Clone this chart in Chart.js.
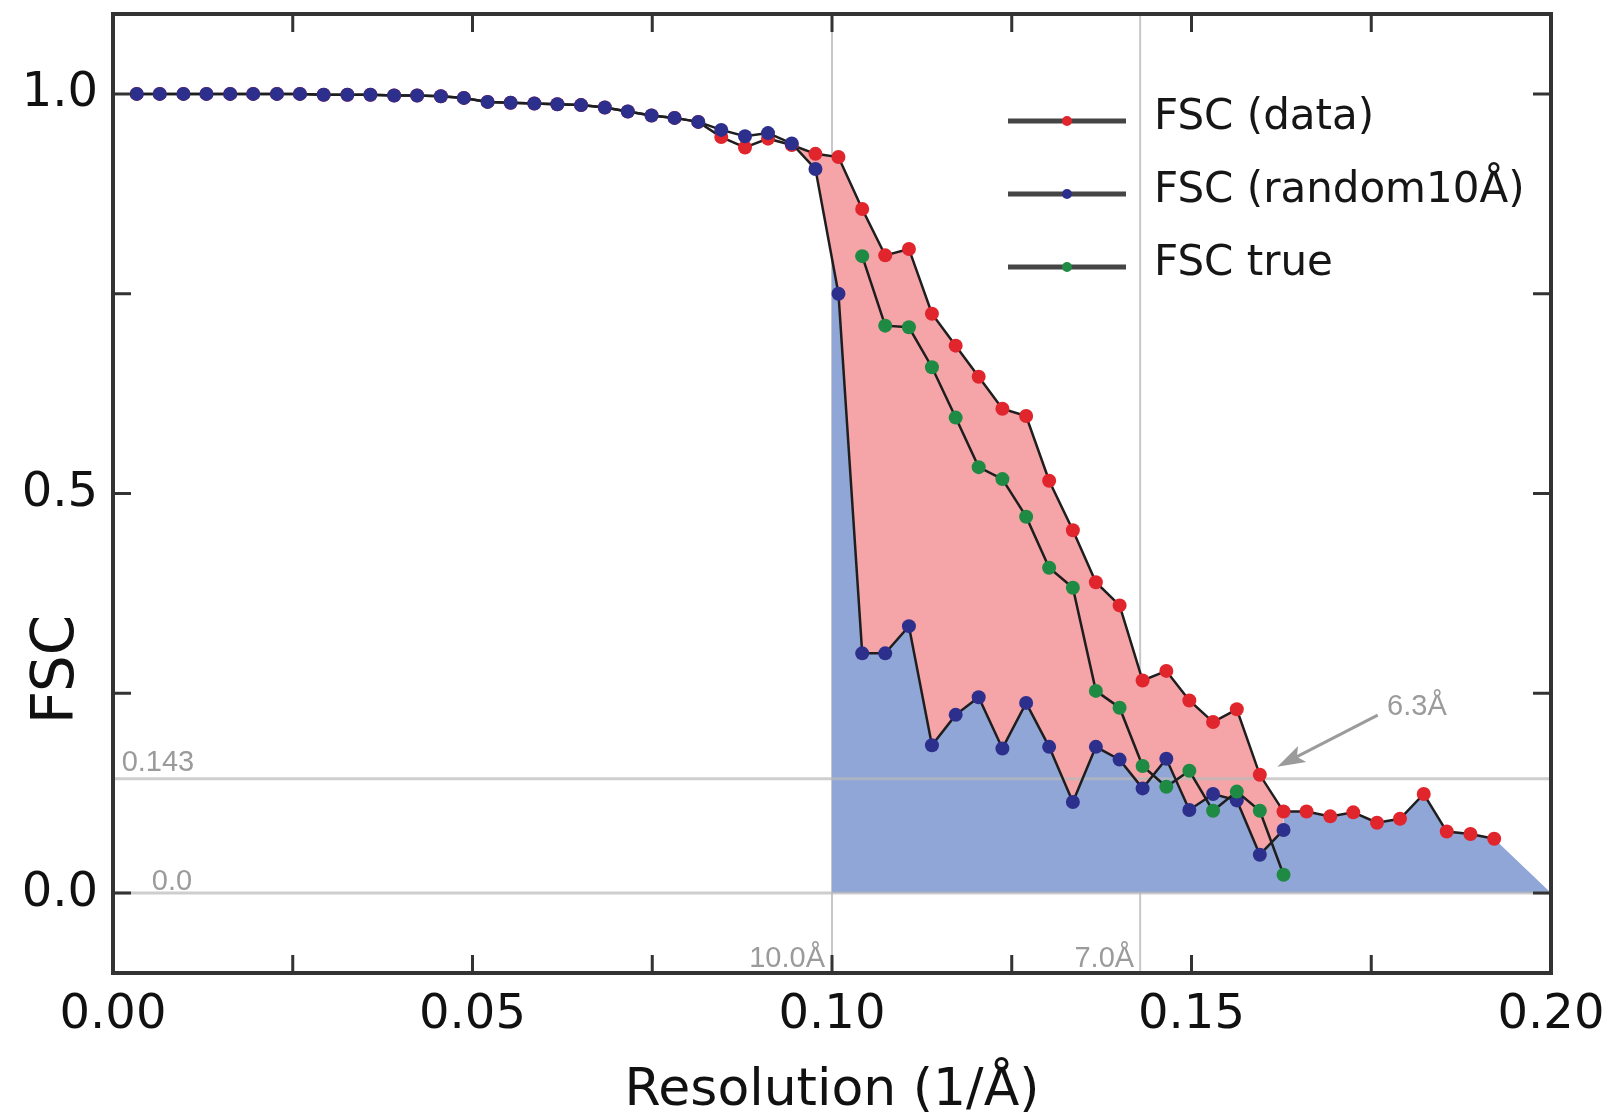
<!DOCTYPE html>
<html>
<head>
<meta charset="utf-8">
<title>FSC</title>
<script src="https://cdn.jsdelivr.net/npm/chart.js@4.4.1/dist/chart.umd.min.js"></script>
<style>
  html, body { margin: 0; padding: 0; background: #fff; }
  #wrap { width: 1613px; height: 1119px; position: relative; }
</style>
</head>
<body>
<div id="wrap"><canvas id="fscChart"></canvas></div>
<script>
// Shell frequencies (1/Å)
const resolution = [
  0.0033, 0.0065, 0.0098, 0.0130, 0.0163, 0.0195, 0.0228, 0.0260, 0.0293, 0.0326,
  0.0358, 0.0391, 0.0423, 0.0456, 0.0488, 0.0521, 0.0553, 0.0586, 0.0618, 0.0651,
  0.0684, 0.0716, 0.0749, 0.0781, 0.0814, 0.0846, 0.0879, 0.0911, 0.0944, 0.0977,
  0.1009, 0.1042, 0.1074, 0.1107, 0.1139, 0.1172, 0.1204, 0.1237, 0.1270, 0.1302,
  0.1335, 0.1367, 0.1400, 0.1432, 0.1465, 0.1497, 0.1530, 0.1563, 0.1595, 0.1628,
  0.1660, 0.1693, 0.1725, 0.1758, 0.1790, 0.1823, 0.1855, 0.1888, 0.1921
];

const fscData = [
  1.000, 1.000, 1.000, 1.000, 1.000, 1.000, 1.000, 1.000, 0.999, 0.999,
  0.999, 0.998, 0.998, 0.997, 0.995, 0.990, 0.989, 0.988, 0.987, 0.986,
  0.983, 0.978, 0.973, 0.970, 0.965, 0.946, 0.933, 0.944, 0.936, 0.925,
  0.921, 0.856, 0.798, 0.806, 0.725, 0.685, 0.646, 0.606, 0.597, 0.516,
  0.454, 0.389, 0.360, 0.266, 0.278, 0.241, 0.214, 0.230, 0.148, 0.102,
  0.102, 0.096, 0.101, 0.088, 0.093, 0.124, 0.077, 0.074, 0.068
];

const fscRandom = [
  1.000, 1.000, 1.000, 1.000, 1.000, 1.000, 1.000, 1.000, 0.999, 0.999,
  0.999, 0.998, 0.998, 0.997, 0.995, 0.990, 0.989, 0.988, 0.987, 0.986,
  0.983, 0.978, 0.973, 0.970, 0.965, 0.955, 0.947, 0.951, 0.938, 0.906,
  0.750, 0.300, 0.300, 0.334, 0.185, 0.223, 0.245, 0.181, 0.238, 0.183,
  0.114, 0.183, 0.167, 0.131, 0.168, 0.104, 0.124, 0.116, 0.048, 0.079
];

// FSC true starts at the 32nd shell
const trueStart = 31;
const fscTrue = [
  0.797, 0.710, 0.708, 0.658, 0.595, 0.533, 0.518, 0.471, 0.407, 0.382,
  0.253, 0.232, 0.159, 0.133, 0.153, 0.103, 0.127, 0.103, 0.023
];

const xTicks = [0, 0.05, 0.10, 0.15, 0.20];
const yTicks = [0.0, 0.5, 1.0];
const seriesLabels = ["FSC (data)", "FSC (random10Å)", "FSC true"];
const cutoff = 0.10;       // 10 Å, phase randomisation starts
const sevenA = 1 / 7.0;    // 7 Å
const threshold = 0.143;
const resLabel = { x: 1 / 6.3, text: "6.3Å" };

const toPoints = (ys, offset = 0) => ys.map((y, i) => ({ x: resolution[i + offset], y }));

function interpAt(ys, xv) {
  for (let i = 1; i < ys.length; i++) {
    if (resolution[i] >= xv) {
      const t = (xv - resolution[i - 1]) / (resolution[i] - resolution[i - 1]);
      return ys[i - 1] + t * (ys[i] - ys[i - 1]);
    }
  }
  return ys[ys.length - 1];
}

// blue region: under the randomised curve past 10 Å, then under the data curve
const lastRandom = fscRandom.length - 1;
const blueArea = [{ x: cutoff, y: interpAt(fscRandom, cutoff) }];
fscRandom.forEach((y, i) => { if (resolution[i] > cutoff) blueArea.push({ x: resolution[i], y }); });
blueArea.push({ x: resolution[lastRandom], y: fscData[lastRandom] });
for (let i = lastRandom + 1; i < fscData.length; i++) blueArea.push({ x: resolution[i], y: fscData[i] });
blueArea.push({ x: xTicks[xTicks.length - 1], y: 0 });

const mainFont = "DejaVu Sans";
const noteFont = "Liberation Sans";
const gray = "#9b9b9b";

const lineStyle = {
  borderColor: "#1e1e1e",
  borderWidth: 2.5,
  pointRadius: 7,
  pointBorderWidth: 0,
  pointHoverRadius: 7,
  tension: 0,
  fill: false
};

// guides, frame, inner ticks, notes and legend
const decorations = {
  id: "decorations",
  beforeDatasetsDraw(chart) {
    const { ctx, chartArea: a, scales: { x } } = chart;
    ctx.save();
    ctx.strokeStyle = "#c8c8c8";
    ctx.lineWidth = 2;
    [cutoff, sevenA].forEach(v => {
      const px = x.getPixelForValue(v);
      ctx.beginPath();
      ctx.moveTo(px, a.top);
      ctx.lineTo(px, a.bottom);
      ctx.stroke();
    });
    ctx.restore();
  },
  afterDatasetDraw(chart, args) {
    if (args.index !== 4) return;
    const { ctx, chartArea: a, scales: { y } } = chart;
    ctx.save();
    ctx.strokeStyle = "rgba(185,185,185,0.7)";
    ctx.lineWidth = 3;
    [threshold, 0].forEach(v => {
      const py = y.getPixelForValue(v);
      ctx.beginPath();
      ctx.moveTo(a.left, py);
      ctx.lineTo(a.right, py);
      ctx.stroke();
    });
    ctx.restore();
  },
  afterDraw(chart) {
    const { ctx, chartArea: a, scales: { x, y } } = chart;
    ctx.save();

    // gray notes
    ctx.fillStyle = gray;
    ctx.font = "29px '" + noteFont + "'";
    ctx.textBaseline = "alphabetic";
    ctx.textAlign = "left";
    ctx.fillText("0.143", x.getPixelForValue(0.0012), y.getPixelForValue(0.153));
    ctx.fillText("0.0", x.getPixelForValue(0.0054), y.getPixelForValue(0.004));
    ctx.textAlign = "right";
    ctx.fillText("10.0Å", x.getPixelForValue(cutoff) - 7, a.bottom - 6);
    ctx.fillText("7.0Å", x.getPixelForValue(sevenA) - 6, a.bottom - 6);

    // 6.3 Å arrow
    const tipX = x.getPixelForValue(resLabel.x + 0.0032), tipY = y.getPixelForValue(0.158);
    const tailX = x.getPixelForValue(0.1759), tailY = y.getPixelForValue(0.2226);
    const ang = Math.atan2(tipY - tailY, tipX - tailX);
    ctx.strokeStyle = gray;
    ctx.lineWidth = 3;
    ctx.beginPath();
    ctx.moveTo(tailX, tailY);
    ctx.lineTo(tipX - 20 * Math.cos(ang), tipY - 20 * Math.sin(ang));
    ctx.stroke();
    ctx.beginPath();
    ctx.moveTo(tipX, tipY);
    ctx.lineTo(tipX - 28 * Math.cos(ang) + 9 * Math.sin(ang), tipY - 28 * Math.sin(ang) - 9 * Math.cos(ang));
    ctx.lineTo(tipX - 22 * Math.cos(ang), tipY - 22 * Math.sin(ang));
    ctx.lineTo(tipX - 28 * Math.cos(ang) - 9 * Math.sin(ang), tipY - 28 * Math.sin(ang) + 9 * Math.cos(ang));
    ctx.closePath();
    ctx.fillStyle = gray;
    ctx.fill();
    ctx.textAlign = "left";
    ctx.fillText(resLabel.text, x.getPixelForValue(0.1772), y.getPixelForValue(0.2226));

    // frame
    ctx.strokeStyle = "#333";
    ctx.lineWidth = 4;
    ctx.strokeRect(a.left, a.top, a.right - a.left, a.bottom - a.top);

    // inner ticks on all four sides
    const tl = 18;
    ctx.lineWidth = 3;
    ctx.beginPath();
    for (let v = 0.025; v < 0.2; v += 0.025) {
      const px = x.getPixelForValue(v);
      ctx.moveTo(px, a.bottom); ctx.lineTo(px, a.bottom - tl);
      ctx.moveTo(px, a.top); ctx.lineTo(px, a.top + tl);
    }
    for (let v = 0; v <= 1.0001; v += 0.25) {
      const py = y.getPixelForValue(v);
      ctx.moveTo(a.left, py); ctx.lineTo(a.left + tl, py);
      ctx.moveTo(a.right, py); ctx.lineTo(a.right - tl, py);
    }
    ctx.stroke();

    // y axis title
    ctx.save();
    ctx.translate(a.left - 40, (a.top + a.bottom) / 2 + 176);
    ctx.rotate(-Math.PI / 2);
    ctx.fillStyle = "#111";
    ctx.font = "58px '" + mainFont + "'";
    ctx.textAlign = "center";
    ctx.textBaseline = "alphabetic";
    ctx.fillText("FSC", 0, 0);
    ctx.restore();

    // legend
    const lx = a.right - 543;
    chart.data.datasets.slice(0, 3).forEach((ds, i) => {
      const ly = a.top + 107 + i * 73;
      ctx.strokeStyle = "#454545";
      ctx.lineWidth = 5;
      ctx.beginPath();
      ctx.moveTo(lx, ly);
      ctx.lineTo(lx + 118, ly);
      ctx.stroke();
      ctx.fillStyle = ds.pointBackgroundColor;
      ctx.beginPath();
      ctx.arc(lx + 59, ly, 5, 0, Math.PI * 2);
      ctx.fill();
      ctx.fillStyle = "#161616";
      ctx.font = "42px '" + mainFont + "'";
      ctx.textAlign = "left";
      ctx.textBaseline = "middle";
      ctx.fillText(ds.label, lx + 146, ly - 3);
    });
    ctx.restore();
  }
};

new Chart(document.getElementById("fscChart"), {
  type: "line",
  data: {
    datasets: [
      { ...lineStyle, label: seriesLabels[0], data: toPoints(fscData), pointBackgroundColor: "#e0252d", order: 3 },
      { ...lineStyle, label: seriesLabels[1], data: toPoints(fscRandom), pointBackgroundColor: "#2d2f8c", order: 2 },
      { ...lineStyle, label: seriesLabels[2], data: toPoints(fscTrue, trueStart), pointBackgroundColor: "#1e8a43", order: 1 },
      {
        label: "gap", data: toPoints(fscData.slice(0, fscRandom.length)),
        borderWidth: 0, borderColor: "rgba(0,0,0,0)", pointRadius: 0, order: 10,
        fill: { target: 1, above: "#f5a4a8", below: "rgba(0,0,0,0)" }
      },
      {
        label: "base", data: blueArea,
        borderWidth: 0, borderColor: "rgba(0,0,0,0)", pointRadius: 0, order: 9,
        fill: "origin", backgroundColor: "#90a6d6"
      }
    ]
  },
  options: {
    responsive: true,
    maintainAspectRatio: false,
    animation: false,
    devicePixelRatio: 1,
    layout: { padding: { top: 14, right: 62, left: 0, bottom: 0 } },
    plugins: {
      legend: { display: false },
      tooltip: { enabled: false }
    },
    scales: {
      x: {
        type: "linear",
        min: 0,
        max: 0.2,
        grid: { display: false },
        border: { display: false },
        afterBuildTicks: s => { s.ticks = xTicks.map(v => ({ value: v })); },
        afterFit: s => { s.height = 146; },
        ticks: {
          autoSkip: false,
          maxRotation: 0,
          padding: 6,
          color: "#111",
          font: { family: mainFont, size: 48 },
          callback: v => v.toFixed(2)
        },
        title: {
          display: true,
          text: "Resolution (1/Å)",
          color: "#111",
          padding: { top: 0, bottom: -4 },
          font: { family: mainFont, size: 52 }
        }
      },
      y: {
        min: -0.1,
        max: 1.1,
        grid: { display: false },
        border: { display: false },
        afterBuildTicks: s => { s.ticks = yTicks.map(v => ({ value: v })); },
        afterFit: s => { s.width = 113; s.paddingTop = 0; s.paddingBottom = 0; },
        ticks: {
          padding: 7,
          color: "#111",
          font: { family: mainFont, size: 48 },
          callback: v => v.toFixed(1)
        }
      }
    }
  },
  plugins: [decorations]
});
</script>
</body>
</html>
